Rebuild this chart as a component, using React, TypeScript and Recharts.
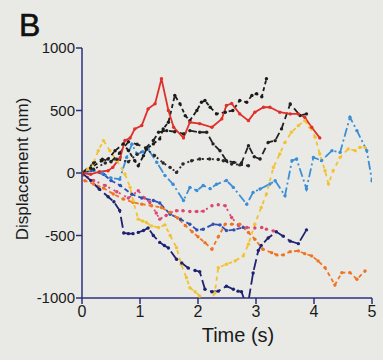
import { LineChart, Line, XAxis, YAxis } from 'recharts';

// time (s) / displacement (nm) per trace
const redT = [0, 0.15, 0.3, 0.45, 0.53, 0.66, 0.74, 0.83, 0.91, 1.03, 1.14, 1.26, 1.37, 1.49, 1.58, 1.75, 1.86, 2.03, 2.24, 2.41, 2.49, 2.58, 2.72, 2.87, 2.98, 3.13, 3.24, 3.41, 3.59, 3.73, 3.84, 3.96, 4.1];
const redV = [0, -10, 10, 18, 45, 125, 260, 280, 353, 380, 513, 554, 754, 500, 366, 281, 406, 395, 366, 433, 540, 556, 473, 419, 486, 526, 526, 486, 473, 473, 446, 366, 281];

const blackAT = [0, 0.15, 0.34, 0.45, 0.57, 0.71, 0.8, 0.91, 0.97, 1.06, 1.11, 1.23, 1.34, 1.4, 1.49, 1.6, 1.69, 1.78, 1.86, 1.98, 2.06, 2.12, 2.21, 2.32, 2.47, 2.6, 2.72, 2.84, 2.93, 3.01, 3.1, 3.18];
const blackAV = [0, 40, 98, 112, 178, 233, 180, 98, 58, 139, 192, 233, 273, 353, 406, 620, 553, 459, 419, 500, 566, 580, 526, 473, 486, 500, 580, 566, 620, 634, 610, 754];

const blackBT = [0, 0.2, 0.35, 0.5, 0.65, 0.8, 0.95, 1.1, 1.23, 1.32, 1.46, 1.6, 1.75, 1.86, 2.03, 2.15, 2.26, 2.38, 2.49, 2.62, 2.75, 2.87, 2.97, 3.07, 3.21, 3.33, 3.44, 3.59, 3.76, 3.87];
const blackBV = [0, 80, 110, 90, 160, 250, 230, 200, 260, 326, 339, 330, 313, 339, 326, 326, 233, 178, 98, 85, 80, 219, 130, 112, 245, 259, 353, 553, 460, 473];

const blackCT = [0, 0.2, 0.4, 0.6, 0.8, 0.95, 1.11, 1.25, 1.4, 1.52, 1.63, 1.74, 1.89, 2.03, 2.2, 2.35, 2.44, 2.58, 2.72, 2.87];
const blackCV = [0, 30, 80, 110, 90, 150, 192, 140, 80, 45, 5, 72, 98, 112, 112, 108, 98, 72, 65, 58];

const skyT = [0, 0.2, 0.35, 0.5, 0.65, 0.77, 0.86, 0.95, 1.05, 1.14, 1.29, 1.43, 1.57, 1.75, 1.86, 1.98, 2.09, 2.21, 2.32, 2.49, 2.61, 2.84, 2.95, 3.07, 3.24, 3.33, 3.5, 3.62, 3.7, 3.87, 3.99, 4.13, 4.31, 4.45, 4.62, 4.74, 4.91, 5.0];
const skyV = [0, 20, 0, -40, -50, 125, 230, 150, 170, 190, 85, -20, -90, -220, -115, -140, -100, -125, -90, -60, -115, -250, -155, -128, -88, -62, -182, 99, 112, -128, 125, 99, 179, 165, 446, 339, 179, -62];

const blueT = [0, 0.17, 0.37, 0.5, 0.66, 0.86, 1.03, 1.23, 1.34, 1.52, 1.7, 1.86, 1.98, 2.09, 2.26, 2.38, 2.49, 2.62, 2.78];
const blueV = [0, 20, -10, -60, -100, -170, -200, -220, -240, -330, -370, -410, -455, -450, -410, -415, -460, -455, -435];

const navyT = [0, 0.15, 0.3, 0.45, 0.55, 0.65, 0.72, 0.8, 0.88, 0.97, 1.06, 1.14, 1.23, 1.34, 1.42, 1.49, 1.63, 1.72, 1.83, 1.95, 2.03, 2.12, 2.24, 2.35, 2.49, 2.61, 2.69, 2.75, 2.85, 2.95, 3.04, 3.09, 3.21, 3.35, 3.47, 3.59, 3.73, 3.87];
const navyV = [0, -60, -130, -190, -230, -300, -480, -485, -485, -475, -460, -440, -500, -555, -580, -600, -690, -720, -760, -780, -790, -930, -950, -945, -905, -930, -945, -950, -1080, -800, -620, -580, -520, -470, -505, -545, -565, -455];

const yellowT = [0, 0.1, 0.19, 0.28, 0.37, 0.48, 0.6, 0.74, 0.83, 0.88, 0.97, 1.05, 1.11, 1.2, 1.32, 1.43, 1.52, 1.63, 1.71, 1.8, 1.86, 1.95, 2.03, 2.16, 2.29, 2.35, 2.49, 2.64, 2.78, 2.87, 2.98, 3.09, 3.18, 3.3, 3.41, 3.5, 3.61, 3.73, 3.84, 3.93, 4.02, 4.1, 4.19, 4.25, 4.33, 4.45, 4.59, 4.71, 4.79, 4.88];
const yellowV = [0, 30, 72, 178, 259, 178, 98, -8, -115, -222, -369, -385, -396, -423, -436, -415, -500, -597, -730, -837, -918, -950, -984, -1080, -958, -757, -730, -703, -663, -569, -409, -276, -168, 45, 152, 245, 326, 379, 419, 366, 286, 152, 18, -88, 18, 125, 192, 179, 205, 205];

const orangeT = [0, 0.05, 0.2, 0.37, 0.54, 0.71, 0.88, 1.03, 1.2, 1.37, 1.52, 1.65, 1.78, 1.9, 2.0, 2.12, 2.24, 2.35, 2.47, 2.58, 2.72, 2.87, 2.98, 3.12, 3.27, 3.36, 3.47, 3.59, 3.73, 3.84, 3.96, 4.07, 4.19, 4.36, 4.48, 4.62, 4.74, 4.88];
const orangeV = [0, -62, -88, -120, -168, -208, -235, -249, -262, -276, -316, -360, -420, -470, -510, -557, -610, -510, -409, -409, -409, -476, -530, -610, -637, -655, -655, -629, -623, -645, -663, -703, -757, -896, -797, -797, -850, -784];

const pinkT = [0, 0.2, 0.4, 0.6, 0.8, 0.97, 1.08, 1.17, 1.28, 1.34, 1.45, 1.52, 1.63, 1.74, 1.86, 1.98, 2.09, 2.24, 2.35, 2.47, 2.58, 2.7, 2.84, 2.98, 3.1, 3.18, 3.3];
const pinkV = [0, -60, -100, -150, -200, -142, -200, -236, -320, -369, -340, -316, -302, -302, -308, -308, -305, -262, -254, -262, -356, -420, -436, -440, -436, -449, -463];

const xTicks = [0, 1, 2, 3, 4, 5];
const yTicks = [-1000, -500, 0, 500, 1000];

const zip = (t: number[], v: number[]) => t.map((x, i) => ({ t: x, v: v[i] }));

const traces = [
  { name: 'pink', data: zip(pinkT, pinkV), color: '#dc4670', dash: '2 4' },
  { name: 'blue', data: zip(blueT, blueV), color: '#3050b0', dash: '5 3' },
  { name: 'sky', data: zip(skyT, skyV), color: '#3a8fd6', dash: '9 3 2 3' },
  { name: 'orange', data: zip(orangeT, orangeV), color: '#ef7422', dash: '4 3' },
  { name: 'yellow', data: zip(yellowT, yellowV), color: '#f2c230', dash: '4 4' },
  { name: 'navy', data: zip(navyT, navyV), color: '#1e2270', dash: '11 4' },
  { name: 'blackC', data: zip(blackCT, blackCV), color: '#2a2a2a', dash: '2 3' },
  { name: 'blackB', data: zip(blackBT, blackBV), color: '#222222', dash: '7 4' },
  { name: 'blackA', data: zip(blackAT, blackAV), color: '#1a1a1a', dash: '4 3' },
  { name: 'red', data: zip(redT, redV), color: '#e0302a', dash: undefined },
];

const FONT = '"Liberation Sans", Arial, Helvetica, sans-serif';
const AXIS = '#2c2f7e';

export default function App() {
  return (
    <div style={{ position: 'absolute', left: 0, top: 0, width: 383, height: 360, background: '#e9e9e6', fontFamily: FONT }}>
      <div style={{ position: 'absolute', left: 19, top: 9, fontSize: 32, lineHeight: '32px', color: '#111', WebkitTextStroke: '0.6px #111' }}>B</div>
      <LineChart width={383} height={360} margin={{ top: 48, right: 11, bottom: 32, left: 0 }}>
        <XAxis
          type="number"
          dataKey="t"
          domain={[0, 5]}
          ticks={xTicks}
          allowDataOverflow
          height={30}
          stroke={AXIS}
          strokeWidth={1.5}
          tickSize={6}
          tickMargin={2}
          tick={{ fill: '#1a1a1a', fontSize: 16, fontFamily: FONT }}
          label={{ value: 'Time (s)', position: 'bottom', offset: 0, dx: 11, style: { fill: '#1a1a1a', fontSize: 20, fontFamily: FONT } }}
        />
        <YAxis
          type="number"
          dataKey="v"
          domain={[-1000, 1000]}
          ticks={yTicks}
          allowDataOverflow
          width={82}
          stroke={AXIS}
          strokeWidth={1.5}
          tickSize={6}
          tickMargin={1}
          tick={{ fill: '#1a1a1a', fontSize: 15, fontFamily: FONT }}
          label={{ value: 'Displacement (nm)', angle: -90, position: 'insideLeft', offset: 22, dy: -4, style: { textAnchor: 'middle', fill: '#1a1a1a', fontSize: 17, fontFamily: FONT } }}
        />
        {traces.map(s => (
          <Line
            key={s.name}
            data={s.data}
            dataKey="v"
            type="linear"
            stroke={s.color}
            strokeWidth={1.8}
            strokeDasharray={s.dash}
            dot={{ r: 1.7, fill: s.color, stroke: s.color, strokeWidth: 0 }}
            isAnimationActive={false}
          />
        ))}
      </LineChart>
    </div>
  );
}
